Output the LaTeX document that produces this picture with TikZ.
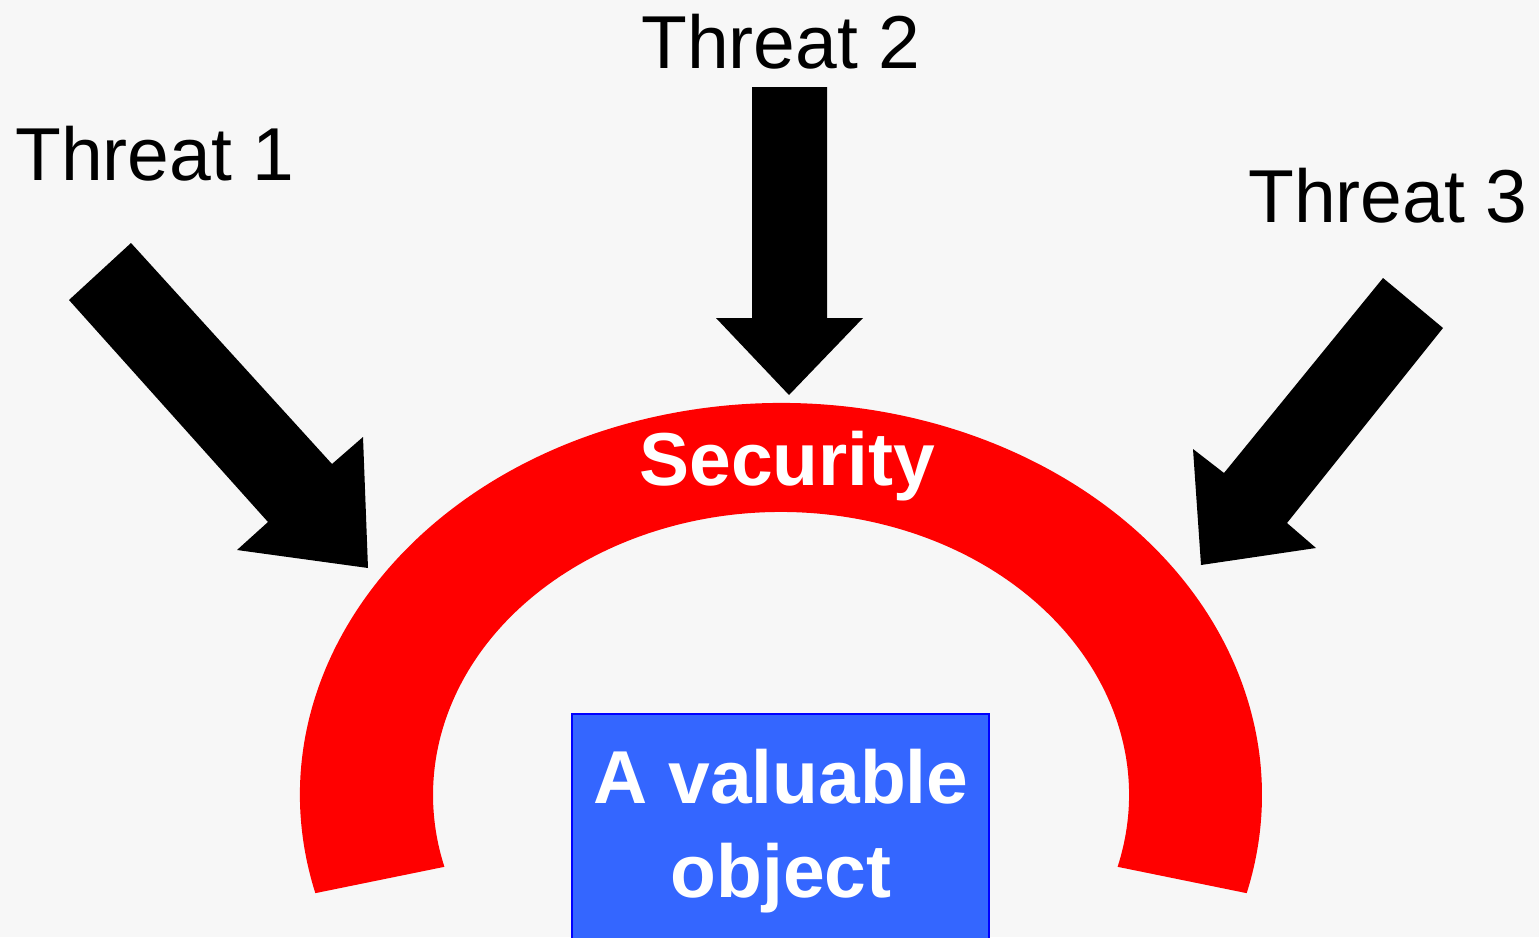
\documentclass[tikz,border=0pt]{standalone}
\usepackage{fontspec}
\setmainfont{Liberation Sans}
\usetikzlibrary{calc}
\definecolor{bgcol}{RGB}{247,247,247}
\definecolor{ringred}{RGB}{255,0,0}
\definecolor{boxblue}{RGB}{52,102,255}
\definecolor{boxedge}{RGB}{0,0,255}
\begin{document}
\begin{tikzpicture}[x=1pt,y=-1pt,
  threatlabel/.style={anchor=base west,inner sep=0pt,font=\fontsize{75}{80}\selectfont,text=black},
  whitelabel/.style={inner sep=0pt,font=\fontsize{75}{94}\selectfont\bfseries,text=white},
  blockarrow/.style={fill=black},
  ring/.style={fill=ringred},
  objbox/.style={fill=boxblue,draw=boxedge,line width=1.2pt}]
\useasboundingbox (0,0) rectangle (1539,937);
\clip (0,0) rectangle (1539,937);
\fill[bgcol] (0,0) rectangle (1539,937);

% labels
\node[threatlabel] (t1) at (15,180) {Threat 1};
\node[threatlabel] (t2) at (641,68) {Threat 2};
\node[threatlabel] (t3) at (1248,222) {Threat 3};

% security ring
\coordinate (c) at (781,795);
\fill[ring] ($(c)+({481*cos(165.5)},{392*sin(165.5)})$)
  arc[start angle=165.5,end angle=374.5,x radius=481,y radius=392]
  -- ($(c)+({348*cos(14.7)},{283*sin(14.7)})$)
  arc[start angle=14.7,end angle=-194.7,x radius=348,y radius=283] -- cycle;
\node[whitelabel,anchor=base] (sec) at (787.5,485) {Security};

% block arrows
\fill[blockarrow] (131,243) -- (332,464) -- (363,437) -- (368,568) -- (237,550) -- (268,522) -- (69,300) -- cycle;
\fill[blockarrow] (752,87) -- (827,87) -- (827,318) -- (863,318) -- (789,395) -- (716,318) -- (752,318) -- cycle;
\fill[blockarrow] (1383,278) -- (1443,328) -- (1287,523) -- (1316,548) -- (1201,565) -- (1193,449) -- (1224,473) -- cycle;

% valuable object
\draw[objbox] (572,714) rectangle (989,960);
\node[whitelabel,anchor=base,align=center] (obj) at (781,897) {A valuable\\object};
\end{tikzpicture}
\end{document}
